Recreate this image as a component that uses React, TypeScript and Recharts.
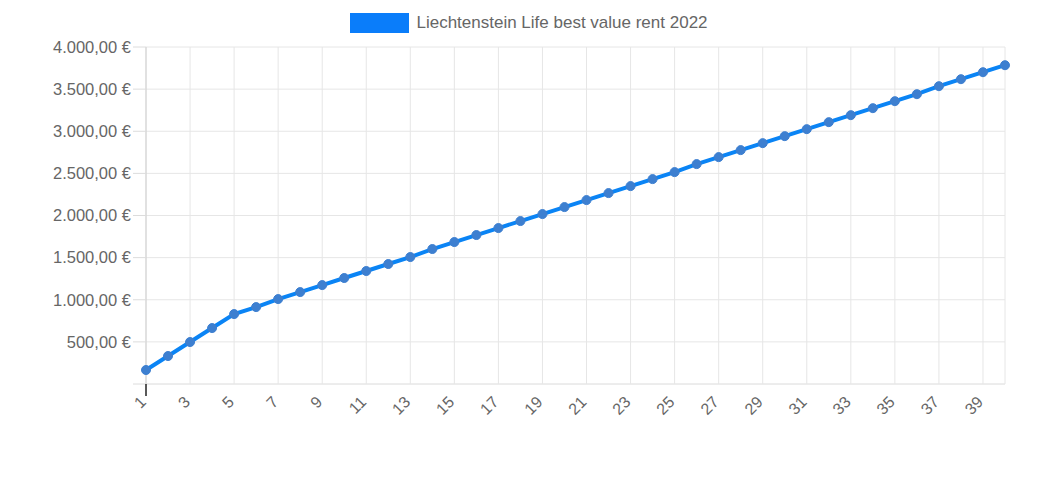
import React from "react";
import { LineChart, Line, XAxis, YAxis, CartesianGrid, Legend } from "recharts";

const periods = Array.from({ length: 40 }, (_, i) => String(i + 1));
const rentValues = [
  166, 332, 498, 664, 830, 913, 1008, 1091, 1174, 1258,
  1341, 1424, 1507, 1602, 1685, 1768, 1851, 1934, 2017, 2100,
  2183, 2266, 2349, 2432, 2515, 2610, 2693, 2776, 2859, 2942,
  3025, 3108, 3191, 3274, 3357, 3440, 3535, 3618, 3701, 3784,
];
const yTicks = [0, 500, 1000, 1500, 2000, 2500, 3000, 3500, 4000];
const seriesName = "Liechtenstein Life best value rent 2022";

const chartData = periods.map((p, i) => ({ period: p, rent: rentValues[i] }));

const FONT = "'Liberation Sans', Arial, sans-serif";

const euro = (v: number) =>
  v === 0
    ? ""
    : v.toLocaleString("de-DE", { minimumFractionDigits: 2, maximumFractionDigits: 2 }) + " €";

// y from recharts already includes tickSize + tickMargin (8px below the axis)
function XTick(props: any) {
  const { x, y, payload, index } = props;
  return (
    <g>
      {index === 0 && <line x1={x} y1={y - 8} x2={x} y2={y + 4} stroke="#222" strokeWidth={1.5} />}
      <g transform={`translate(${x - 7},${y + 3})`}>
        <text
          x={0}
          y={0}
          dy="0.71em"
          textAnchor="end"
          transform="rotate(-45)"
          fill="#666"
          fontSize={16}
          fontFamily={FONT}
        >
          {payload.value}
        </text>
      </g>
    </g>
  );
}

function LegendBox() {
  return (
    <div
      style={{
        display: "flex",
        justifyContent: "center",
        alignItems: "center",
        fontFamily: FONT,
        paddingLeft: 53,
      }}
    >
      <span style={{ display: "inline-block", width: 59, height: 20, background: "#0a7dfa", marginRight: 7 }} />
      <span style={{ color: "#666", fontSize: 17 }}>{seriesName}</span>
    </div>
  );
}

export default function App() {
  return (
    <div style={{ position: "absolute", left: 0, top: 0, width: 1044, height: 488, background: "#fff" }}>
      <LineChart width={1044} height={488} data={chartData} margin={{ top: 10, right: 39, bottom: 64, left: 0 }}>
        <Legend verticalAlign="top" height={37} content={<LegendBox />} wrapperStyle={{ top: 13 }} />
        <CartesianGrid stroke="#e6e6e6" />
        <XAxis
          dataKey="period"
          interval={1}
          height={40}
          tick={<XTick />}
          tickLine={false}
          axisLine={{ stroke: "#e6e6e6" }}
        />
        <YAxis
          width={146}
          domain={[0, 4000]}
          ticks={yTicks}
          tickFormatter={euro}
          tickSize={13}
          tickMargin={2}
          tickLine={{ stroke: "#dcdcdc" }}
          axisLine={{ stroke: "#cfcfcf" }}
          tick={{ fill: "#666", fontSize: 16.5, fontFamily: FONT }}
        />
        <Line
          dataKey="rent"
          name={seriesName}
          stroke="#0a84f5"
          strokeWidth={4}
          dot={{ r: 4.5, fill: "#3d7fd0", stroke: "#3d7fd0", strokeWidth: 1 }}
          isAnimationActive={false}
        />
      </LineChart>
    </div>
  );
}
